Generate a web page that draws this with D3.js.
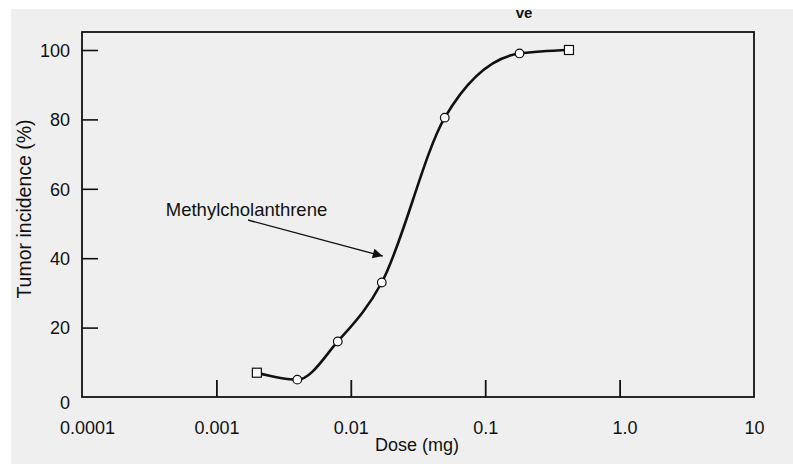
<!DOCTYPE html>
<html>
<head>
<meta charset="utf-8">
<script src="https://cdn.jsdelivr.net/npm/d3@7"></script>
<style>
  html, body { margin: 0; padding: 0; background: #fff; }
  svg { display: block; font-family: "Liberation Sans", Arial, Helvetica, sans-serif; }
</style>
</head>
<body>
<svg id="chart" width="793" height="466"></svg>
<script>
// dose (mg) vs tumor incidence (%)
const doseTicks = [0.0001, 0.001, 0.01, 0.1, 1, 10];
const doseTickLabels = ["0.0001", "0.001", "0.01", "0.1", "1.0", "10"];
const incidenceTicks = [0, 20, 40, 60, 80, 100];

const circleDose = [0.004, 0.008, 0.017, 0.05, 0.18];
const circleIncidence = [5, 16, 33, 80.5, 99];
const squareDose = [0.002, 0.42];
const squareIncidence = [7, 100];

const labelText = "Methylcholanthrene";

var svg = d3.select("#chart");
var plotLeft = 82, plotRight = 754, plotTop = 32, plotBottom = 397;

// page background
svg.append("rect").attr("x", 11).attr("y", 9).attr("width", 782).attr("height", 455).attr("fill", "#efefef");

var x = d3.scaleLog().domain([0.0001, 10]).range([plotLeft, plotRight]);
var y = d3.scaleLinear().domain([0, 100]).range([plotBottom, 50]);

// frame
svg.append("rect")
  .attr("x", plotLeft).attr("y", plotTop)
  .attr("width", plotRight - plotLeft).attr("height", plotBottom - plotTop)
  .attr("fill", "none").attr("stroke", "#111").attr("stroke-width", 1.8);

// x axis, ticks pointing inward
var xAxis = svg.append("g")
  .attr("transform", "translate(0," + plotBottom + ")")
  .call(d3.axisBottom(x).tickValues(doseTicks)
    .tickFormat((d, i) => doseTickLabels[i]).tickSizeInner(-17).tickSizeOuter(0).tickPadding(24));
xAxis.select(".domain").remove();
xAxis.selectAll("line").attr("stroke", "#111").attr("stroke-width", 1.8);
xAxis.selectAll("text").attr("font-size", 18).attr("fill", "#111").attr("font-family", null)
  .attr("dx", d => d === 0.0001 ? 5 : (d === 1 ? 5 : 0));

var yAxis = svg.append("g")
  .attr("transform", "translate(" + plotLeft + ",0)")
  .call(d3.axisLeft(y).tickValues(incidenceTicks).tickSizeInner(-16).tickSizeOuter(0).tickPadding(12));
yAxis.select(".domain").remove();
yAxis.selectAll("line").attr("stroke", "#111").attr("stroke-width", 1.6);
yAxis.selectAll("text").attr("font-size", 18).attr("fill", "#111").attr("font-family", null)
  .attr("dy", d => d === 0 ? "0.62em" : "0.35em");
// end ticks sit on the frame
xAxis.selectAll(".tick").filter(d => d === 0.0001 || d === 10).select("line").remove();
yAxis.selectAll(".tick").filter(d => d === 0).select("line").remove();

// axis titles
svg.append("text").attr("x", 417).attr("y", 451).attr("text-anchor", "middle")
  .attr("font-size", 18).attr("fill", "#111").text("Dose (mg)");
svg.append("text").attr("transform", "translate(31,209) rotate(-90)").attr("text-anchor", "middle")
  .attr("font-size", 19.5).attr("fill", "#111").text("Tumor incidence (%)");

// truncated title fragment
svg.append("text").attr("x", 524).attr("y", 18).attr("text-anchor", "middle")
  .attr("font-size", 15).attr("font-weight", "bold").attr("fill", "#111").text("ve");

// curve through all points
var pts = [];
squareDose.forEach((d, i) => pts.push([d, squareIncidence[i]]));
circleDose.forEach((d, i) => pts.push([d, circleIncidence[i]]));
pts.sort((a, b) => a[0] - b[0]);

var line = d3.line().x(d => x(d[0])).y(d => y(d[1])).curve(d3.curveMonotoneX);
svg.append("path").attr("d", line(pts)).attr("fill", "none")
  .attr("stroke", "#111").attr("stroke-width", 2.6);

svg.selectAll("circle.pt").data(circleDose).enter().append("circle")
  .attr("class", "pt")
  .attr("cx", d => x(d)).attr("cy", (d, i) => y(circleIncidence[i]))
  .attr("r", 4.3).attr("fill", "#fff").attr("stroke", "#111").attr("stroke-width", 1.2);

svg.selectAll("rect.sq").data(squareDose).enter().append("rect")
  .attr("class", "sq")
  .attr("x", d => x(d) - 4.5).attr("y", (d, i) => y(squareIncidence[i]) - 4.5)
  .attr("width", 9).attr("height", 9).attr("fill", "#fff").attr("stroke", "#111").attr("stroke-width", 1.2);

// annotation
svg.append("defs").append("marker")
  .attr("id", "head").attr("viewBox", "0 0 10 10").attr("refX", 10).attr("refY", 5)
  .attr("markerWidth", 17).attr("markerHeight", 10).attr("markerUnits", "userSpaceOnUse")
  .attr("orient", "auto")
  .append("path").attr("d", "M0,0 L10,5 L0,10 Z").attr("fill", "#111");

svg.append("line")
  .attr("x1", x(0.00172)).attr("y1", y(51))
  .attr("x2", x(0.0173)).attr("y2", y(40.6))
  .attr("stroke", "#111").attr("stroke-width", 1.4).attr("marker-end", "url(#head)");

svg.append("text").attr("x", x(0.00042)).attr("y", y(52.3))
  .attr("font-size", 18.5).attr("fill", "#111").text(labelText);
</script>
</body>
</html>
